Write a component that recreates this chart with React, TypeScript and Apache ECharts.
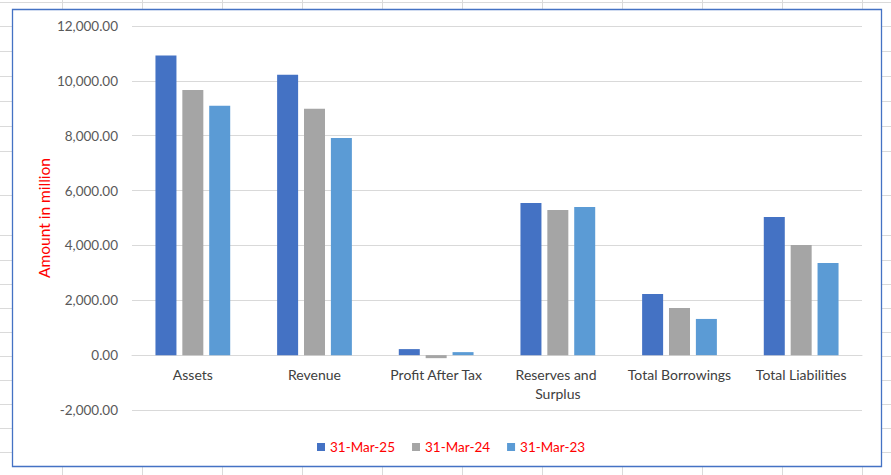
import React, { useEffect, useRef } from "react";
import * as echarts from "echarts";

const categories = ["Assets", "Revenue", "Profit After Tax", "Reserves and Surplus", "Total Borrowings", "Total Liabilities"];
const seriesNames = ["31-Mar-25", "31-Mar-24", "31-Mar-23"];
const mar25 = [10920, 10220, 220, 5550, 2230, 5040];
const mar24 = [9670, 8980, -110, 5290, 1720, 4020];
const mar23 = [9090, 7920, 110, 5400, 1320, 3360];
const colors = ["#4472C4", "#A5A5A5", "#5B9BD5"];
const yMin = -2000;
const yMax = 12000;
const yInterval = 2000;

const FONT = "Lato, 'Open Sans', sans-serif";

// decorative spreadsheet cell grid behind the chart area
const sheetCols = [62.5, 142.5, 222.5, 302.5, 382.5, 462.5, 542.5, 622.5, 702.5, 782.5, 862.5];
const sheetRows = [2.5, 26.5, 51.5, 76.5, 101.5, 126.5, 151.5, 195.5, 235.5, 260.5, 284.5, 308.5, 332.5, 356.5, 380.5, 404.5, 428.5, 452.5];

const GRID_TOP = 26;
const GRID_BOTTOM = 65;
const PLOT_H = 475 - GRID_TOP - GRID_BOTTOM;

export default function App() {
  const ref = useRef<HTMLDivElement>(null);
  useEffect(() => {
    if (!ref.current) return;
    const chart = echarts.init(ref.current, undefined, { renderer: "svg" });
    const bg: any[] = [];
    sheetCols.forEach((x) =>
      bg.push({ type: "line", z: -20, silent: true, shape: { x1: x, y1: 0, x2: x, y2: 475 }, style: { stroke: "#DADADA", lineWidth: 1 } })
    );
    sheetRows.forEach((y) =>
      bg.push({ type: "line", z: -20, silent: true, shape: { x1: 0, y1: y, x2: 891, y2: y }, style: { stroke: "#DADADA", lineWidth: 1 } })
    );
    bg.push({
      type: "rect",
      z: -10,
      silent: true,
      shape: { x: 12.5, y: 9.5, width: 869, height: 457 },
      style: { fill: "#FFFFFF", stroke: "#4472C4", lineWidth: 1.3 },
    });
    bg.push({
      type: "text",
      z: 5,
      x: 44,
      y: GRID_TOP + PLOT_H / 2,
      rotation: Math.PI / 2,
      style: {
        text: "Amount in million",
        fill: "#FF0000",
        font: `15.5px ${FONT}`,
        align: "center",
        verticalAlign: "middle",
      },
    });
    const dataSets = [mar25, mar24, mar23];
    // distance (px) from the plot's bottom edge up to the zero line
    const zeroOffset = (PLOT_H * (0 - yMin)) / (yMax - yMin);
    chart.setOption({
      animation: false,
      backgroundColor: "#FFFFFF",
      textStyle: { fontFamily: FONT },
      graphic: { elements: bg },
      grid: { left: 132, right: 29, top: GRID_TOP, bottom: GRID_BOTTOM, containLabel: false },
      legend: {
        data: seriesNames,
        left: 312,
        top: 435,
        itemWidth: 8,
        itemHeight: 8,
        itemGap: 17,
        icon: "rect",
        textStyle: { color: "#FF0000", fontSize: 13.5, fontFamily: FONT },
      },
      xAxis: {
        type: "category",
        data: categories,
        offset: -zeroOffset,
        axisLine: { show: true, onZero: false, lineStyle: { color: "#D9D9D9", width: 1 } },
        axisTick: { show: false },
        axisLabel: {
          color: "#404040",
          fontSize: 14,
          fontFamily: FONT,
          margin: 10,
          interval: 0,
          width: 112,
          overflow: "break",
          lineHeight: 19,
        },
      },
      yAxis: {
        type: "value",
        min: yMin,
        max: yMax,
        interval: yInterval,
        axisLine: { show: false },
        axisTick: { show: false },
        splitLine: { lineStyle: { color: "#D9D9D9", width: 1 } },
        axisLabel: {
          color: "#595959",
          fontSize: 13.5,
          fontFamily: FONT,
          margin: 14,
          formatter: (v: number) =>
            v.toLocaleString("en-US", { minimumFractionDigits: 2, maximumFractionDigits: 2 }),
        },
      },
      series: seriesNames.map((name, i) => ({
        name,
        type: "bar",
        data: dataSets[i],
        barWidth: 21,
        barGap: "28%",
        itemStyle: { color: colors[i] },
      })),
    });
    return () => chart.dispose();
  }, []);
  return (
    <div
      ref={ref}
      style={{ position: "absolute", left: 0, top: 0, width: 891, height: 475 }}
    />
  );
}
